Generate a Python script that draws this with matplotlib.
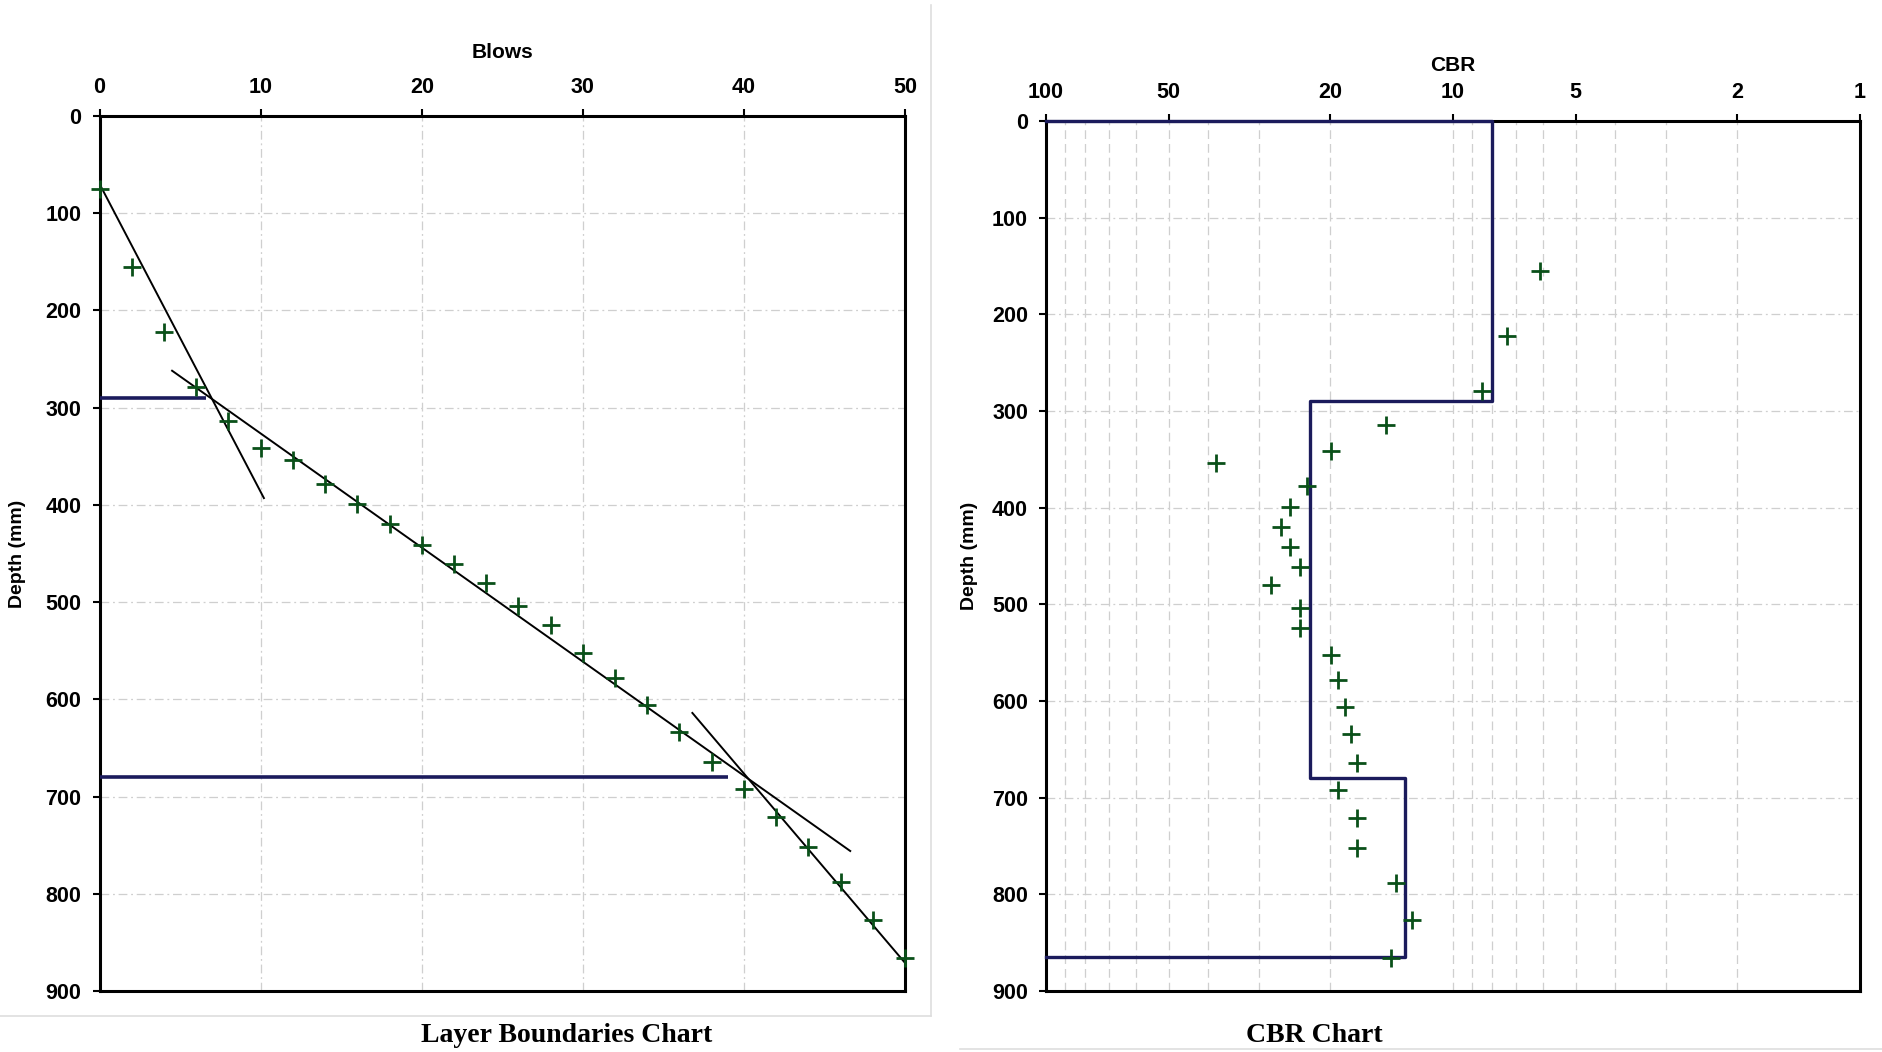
import matplotlib
matplotlib.use("Agg")
import matplotlib.pyplot as plt
from matplotlib.lines import Line2D
from matplotlib.ticker import FixedLocator, NullFormatter

# ---------------- data ----------------
blows = [0, 2, 4, 6, 8, 10, 12, 14, 16, 18, 20, 22, 24, 26, 28, 30, 32, 34, 36, 38, 40, 42, 44, 46, 48, 50]
depth = [75, 155, 222, 279, 314, 341, 354, 378, 399, 420, 441, 461, 480, 504, 524, 552, 578, 606, 634, 664,
         692, 721, 752, 788, 827, 866]

cbr_values = [6.1, 7.35, 8.5, 14.6, 19.9, 38.3, 22.8, 25.1, 26.5, 25.1, 23.8, 28.0, 23.8, 23.8, 19.9, 19.2,
              18.4, 17.8, 17.2, 19.2, 17.2, 17.2, 13.8, 12.6, 14.2]
cbr_depth = depth[1:]

# fitted layer lines (blows, depth)
fit1_blows = [0, 10.2]
fit1_depth = [70, 393]
fit2_blows = [4.5, 46.6]
fit2_depth = [262, 756]
fit3_blows = [36.8, 50.1]
fit3_depth = [614, 873]

# layer boundaries
boundary_depth = [290, 680]
boundary_blows_end = [6.6, 39.0]

# CBR step profile
layer_top = [0, 290, 680]
layer_bottom = [290, 680, 865]
layer_cbr = [8.0, 22.4, 13.1]

blows_ticks = [0, 10, 20, 30, 40, 50]
depth_ticks = [0, 100, 200, 300, 400, 500, 600, 700, 800, 900]
cbr_ticks = [100, 50, 20, 10, 5, 2, 1]
cbr_minor = [90, 80, 70, 60, 40, 30, 9, 8, 7, 6, 4, 3]

# ---------------- style ----------------
plt.rcParams['font.family'] = ['Liberation Sans', 'DejaVu Sans']
TICK_FS = 15.5
LAB_FS = 15
NAVY = '#1b1b5c'
GREEN = '#0a5019'
GRID = '#cfcfcf'

fig = plt.figure(figsize=(18.82, 10.52), dpi=100)

# panel borders
fig.add_artist(Line2D([931 / 1882, 931 / 1882], [1 - 5 / 1052, 1 - 1016 / 1052], color='#dedede', lw=1.2,
                      transform=fig.transFigure))
fig.add_artist(Line2D([0, 931 / 1882], [1 - 1016 / 1052, 1 - 1016 / 1052], color='#dedede', lw=1.2,
                      transform=fig.transFigure))
fig.add_artist(Line2D([960 / 1882, 1], [1 - 1049 / 1052, 1 - 1049 / 1052], color='#dedede', lw=1.2,
                      transform=fig.transFigure))


def style_axes(ax):
    for s in ax.spines.values():
        s.set_linewidth(2.2)
        s.set_color('black')
    ax.xaxis.tick_top()
    ax.xaxis.set_label_position('top')
    ax.tick_params(axis='both', which='major', labelsize=TICK_FS, length=5, width=1.5, direction='out',
                   colors='black')
    ax.tick_params(axis='x', which='major', pad=8)
    ax.tick_params(axis='y', which='major', pad=8)
    for lab in ax.get_xticklabels() + ax.get_yticklabels():
        lab.set_fontweight('bold')


# ---------------- left: Layer Boundaries ----------------
axL = fig.add_axes([99.6 / 1882, 1 - 991 / 1052, (905 - 99.6) / 1882, (991 - 116) / 1052])
axL.set_xlim(0, 50)
axL.set_ylim(900, 0)
axL.set_xticks(blows_ticks)
axL.set_yticks(depth_ticks)
axL.grid(True, color=GRID, lw=0.9, linestyle=(0, (7, 3, 1.5, 3)))
axL.set_axisbelow(True)
style_axes(axL)

axL.plot(fit1_blows, fit1_depth, color='black', lw=1.4, zorder=3)
axL.plot(fit2_blows, fit2_depth, color='black', lw=1.4, zorder=3)
axL.plot(fit3_blows, fit3_depth, color='black', lw=1.4, zorder=3)
for d, b in zip(boundary_depth, boundary_blows_end):
    axL.plot([0, b], [d, d], color=NAVY, lw=2.6, zorder=3, solid_capstyle='butt')
axL.plot(blows, depth, linestyle='none', marker='+', markersize=13, mew=2.0, color=GREEN, zorder=4,
         clip_on=False)

axL.set_xlabel('Blows', fontsize=LAB_FS, fontweight='bold', labelpad=14)
axL.set_ylabel('Depth (mm)', fontsize=14, fontweight='bold', labelpad=14)
fig.text(567 / 1882, 1 - 1036 / 1052, 'Layer Boundaries Chart', ha='center', va='center', fontsize=20,
         fontweight='bold', family=['Liberation Serif', 'DejaVu Serif'])

# ---------------- right: CBR ----------------
axR = fig.add_axes([1046 / 1882, 1 - 991 / 1052, (1860 - 1046) / 1882, (991 - 121) / 1052])
axR.set_xscale('log')
axR.set_xlim(100, 1)
axR.set_ylim(900, 0)
axR.xaxis.set_major_locator(FixedLocator(cbr_ticks))
axR.xaxis.set_minor_locator(FixedLocator(cbr_minor))
axR.xaxis.set_minor_formatter(NullFormatter())
axR.set_xticklabels([str(t) for t in cbr_ticks])
axR.set_yticks(depth_ticks)
axR.grid(True, which='both', axis='x', color=GRID, lw=0.9, linestyle=(0, (7, 4)))
axR.grid(True, which='major', axis='y', color=GRID, lw=0.9, linestyle=(0, (7, 3, 1.5, 3)))
axR.tick_params(axis='x', which='minor', length=0)
axR.set_axisbelow(True)
style_axes(axR)

step_x = [100]
step_y = [layer_top[0]]
for t, b, c in zip(layer_top, layer_bottom, layer_cbr):
    step_x += [c, c]
    step_y += [t, b]
step_x.append(100)
step_y.append(layer_bottom[-1])
axR.plot(step_x, step_y, color=NAVY, lw=2.4, zorder=3, clip_on=False)
axR.plot(cbr_values, cbr_depth, linestyle='none', marker='+', markersize=13, mew=2.0, color=GREEN, zorder=4)

axR.set_xlabel('CBR', fontsize=LAB_FS, fontweight='bold', labelpad=8)
axR.set_ylabel('Depth (mm)', fontsize=14, fontweight='bold', labelpad=10)
fig.text(1314 / 1882, 1 - 1036 / 1052, 'CBR Chart', ha='center', va='center', fontsize=20,
         fontweight='bold', family=['Liberation Serif', 'DejaVu Serif'])

fig.savefig('out.png', dpi=100, facecolor='white')
